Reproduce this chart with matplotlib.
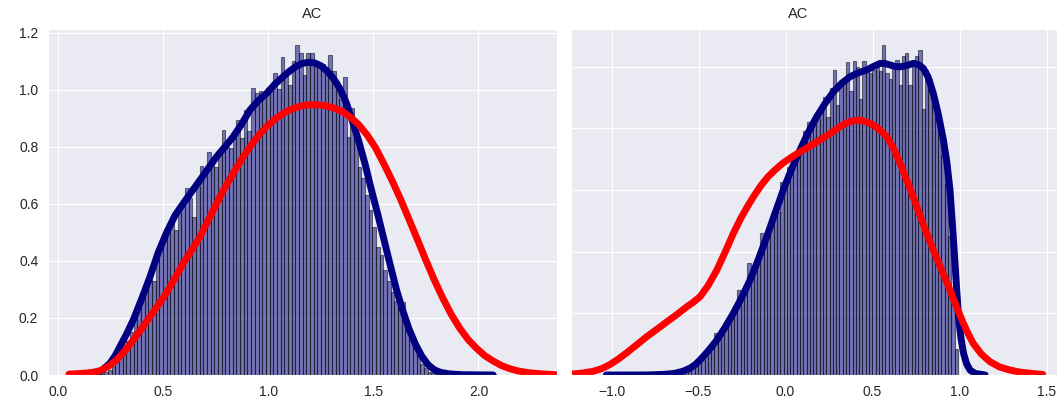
import numpy as np
import matplotlib
matplotlib.use("Agg")
import matplotlib.pyplot as plt
import seaborn as sns

# ---- panel 1: histogram (density) ----
left_edges_range = (0.20, 1.95)
left_hist = [0.005, 0.01, 0.018, 0.03, 0.05, 0.068, 0.09, 0.12, 0.15, 0.2,
             0.24, 0.27, 0.30, 0.357, 0.33, 0.44, 0.46, 0.497, 0.50, 0.532,
             0.51, 0.567, 0.60, 0.655, 0.62, 0.556, 0.66, 0.733, 0.70, 0.784,
             0.74, 0.73, 0.79, 0.86, 0.80, 0.795, 0.83, 0.895, 0.83, 0.93,
             0.855, 1.006, 0.99, 0.996, 0.975, 1.006, 1.02, 1.058, 1.003, 1.117,
             1.05, 1.018, 1.10, 1.158, 1.13, 1.053, 1.129, 1.13, 1.095, 1.09,
             1.09, 1.07, 1.123, 1.065, 1.03, 0.97, 1.047, 0.836, 0.936, 0.83,
             0.731, 0.69, 0.63, 0.58, 0.52, 0.45, 0.42, 0.37, 0.33, 0.29,
             0.26, 0.24, 0.257, 0.16, 0.13, 0.10, 0.07, 0.04, 0.025, 0.012,
             0.008, 0.004, 0.002, 0.001, 0.001, 0.0, 0.0, 0.001, 0.0, 0.001]

# kde curves
left_kde_x = [0.06, 0.15, 0.20, 0.245, 0.27, 0.293, 0.325, 0.356, 0.395, 0.436,
              0.475, 0.515, 0.555, 0.594, 0.634, 0.674, 0.713, 0.753, 0.792, 0.832,
              0.872, 0.912, 0.951, 0.991, 1.03, 1.07, 1.10, 1.13, 1.16, 1.19,
              1.22, 1.25, 1.28, 1.31, 1.34, 1.37, 1.40, 1.43, 1.46, 1.49,
              1.52, 1.55, 1.58, 1.61, 1.64, 1.67, 1.70, 1.73, 1.76, 1.79,
              1.82, 1.86, 1.92, 2.07]
left_kde_y = [0.0, 0.002, 0.012, 0.041, 0.068, 0.10, 0.145, 0.193, 0.265, 0.345,
              0.43, 0.50, 0.56, 0.602, 0.643, 0.684, 0.725, 0.766, 0.80, 0.836,
              0.88, 0.93, 0.962, 0.988, 1.02, 1.047, 1.066, 1.082, 1.093, 1.097,
              1.095, 1.085, 1.066, 1.04, 1.005, 0.956, 0.89, 0.82, 0.74, 0.65,
              0.565, 0.475, 0.385, 0.298, 0.225, 0.16, 0.108, 0.066, 0.036, 0.018,
              0.009, 0.004, 0.001, 0.0]
left_ref_x = [0.05, 0.12, 0.16, 0.198, 0.237, 0.277, 0.316, 0.356, 0.396, 0.436,
              0.475, 0.515, 0.555, 0.594, 0.634, 0.674, 0.713, 0.753, 0.792, 0.832,
              0.872, 0.912, 0.951, 0.991, 1.03, 1.07, 1.11, 1.15, 1.19, 1.23,
              1.27, 1.31, 1.35, 1.39, 1.43, 1.47, 1.51, 1.55, 1.59, 1.63,
              1.67, 1.71, 1.75, 1.79, 1.83, 1.87, 1.91, 1.95, 1.99, 2.03,
              2.07, 2.11, 2.15, 2.19, 2.24, 2.30, 2.37]
left_ref_y = [0.003, 0.006, 0.009, 0.015, 0.03, 0.053, 0.085, 0.123, 0.163, 0.205,
              0.245, 0.29, 0.34, 0.392, 0.438, 0.485, 0.543, 0.602, 0.657, 0.708,
              0.757, 0.801, 0.84, 0.871, 0.897, 0.918, 0.933, 0.943, 0.948, 0.948,
              0.945, 0.937, 0.925, 0.905, 0.878, 0.842, 0.797, 0.74, 0.68, 0.615,
              0.545, 0.474, 0.402, 0.333, 0.27, 0.213, 0.165, 0.125, 0.094, 0.068,
              0.049, 0.033, 0.022, 0.014, 0.008, 0.004, 0.001]

# ---- panel 2 ----
right_edges_range = (-0.90, 0.99)
right_hist = [0.0, 0.0, 0.0, 0.001, 0.0, 0.001, 0.001, 0.002, 0.002, 0.003,
              0.003, 0.004, 0.005, 0.005, 0.007, 0.01, 0.012, 0.015, 0.02, 0.024,
              0.035, 0.04, 0.05, 0.06, 0.075, 0.095, 0.135, 0.125, 0.145, 0.16,
              0.18, 0.20, 0.225, 0.275, 0.26, 0.29, 0.362, 0.33, 0.37, 0.40,
              0.46, 0.44, 0.47, 0.50, 0.53, 0.529, 0.627, 0.64, 0.675, 0.68,
              0.70, 0.73, 0.74, 0.79, 0.821, 0.80, 0.84, 0.83, 0.87, 0.902,
              0.835, 0.93, 0.989, 0.876, 0.95, 0.96, 1.016, 0.92, 1.019, 1.0,
              0.894, 1.019, 0.997, 0.98, 0.99, 1.0, 0.985, 1.07, 0.98, 0.96,
              1.0, 1.021, 0.94, 1.034, 1.045, 0.94, 1.02, 1.034, 1.053, 0.861,
              0.99, 0.958, 0.92, 0.886, 0.80, 0.713, 0.62, 0.45, 0.25, 0.083]

right_kde_x = [-1.03, -0.80, -0.70, -0.64, -0.59, -0.55, -0.52, -0.491, -0.46, -0.43,
               -0.395, -0.35, -0.30, -0.25, -0.204, -0.156, -0.108, -0.06, -0.013, 0.035,
               0.083, 0.131, 0.179, 0.227, 0.275, 0.323, 0.371, 0.42, 0.467, 0.505,
               0.543, 0.57, 0.60, 0.63, 0.658, 0.695, 0.734, 0.765, 0.792, 0.82,
               0.849, 0.878, 0.907, 0.927, 0.945, 0.96, 0.975, 0.985, 0.994, 1.008,
               1.023, 1.04, 1.06, 1.09, 1.147]
right_kde_y = [0.0, 0.0, 0.002, 0.005, 0.012, 0.022, 0.033, 0.049, 0.068, 0.088,
               0.113, 0.152, 0.20, 0.253, 0.308, 0.375, 0.448, 0.525, 0.60, 0.668,
               0.729, 0.787, 0.837, 0.88, 0.918, 0.946, 0.967, 0.98, 0.989, 1.0,
               1.01, 1.01, 1.005, 1.0, 0.999, 1.003, 1.01, 1.006, 0.994, 0.965,
               0.913, 0.845, 0.762, 0.69, 0.6, 0.48, 0.351, 0.265, 0.189, 0.12,
               0.07, 0.037, 0.016, 0.005, 0.0]
right_ref_x = [-1.233, -1.17, -1.105, -1.055, -1.009, -0.96, -0.913, -0.855, -0.798, -0.74,
               -0.683, -0.625, -0.568, -0.53, -0.491, -0.445, -0.395, -0.35, -0.30, -0.26,
               -0.22, -0.18, -0.14, -0.10, -0.06, -0.017, 0.026, 0.074, 0.122, 0.17,
               0.22, 0.27, 0.313, 0.343, 0.371, 0.40, 0.43, 0.467, 0.505, 0.545,
               0.582, 0.62, 0.658, 0.706, 0.754, 0.80, 0.849, 0.897, 0.945, 0.98,
               1.02, 1.05, 1.079, 1.125, 1.175, 1.23, 1.29, 1.34, 1.386, 1.43, 1.478]
right_ref_y = [0.003, 0.006, 0.012, 0.021, 0.034, 0.052, 0.072, 0.098, 0.124, 0.148,
               0.172, 0.196, 0.221, 0.236, 0.254, 0.29, 0.34, 0.395, 0.459, 0.505,
               0.545, 0.582, 0.615, 0.643, 0.665, 0.686, 0.703, 0.72, 0.736, 0.752,
               0.77, 0.788, 0.805, 0.815, 0.821, 0.825, 0.826, 0.82, 0.81, 0.793,
               0.772, 0.735, 0.686, 0.618, 0.546, 0.475, 0.405, 0.34, 0.276, 0.225,
               0.17, 0.133, 0.102, 0.068, 0.043, 0.026, 0.016, 0.01, 0.007, 0.004, 0.002]

sns.set_style("darkgrid")
plt.rcParams['font.family'] = ['Liberation Sans', 'DejaVu Sans']

W, H = 1057, 411
fig = plt.figure(figsize=(W / 100, H / 100), dpi=100)


def px_axes(x0, x1, y_top, y_bot):
    return fig.add_axes([x0 / W, 1 - y_bot / H, (x1 - x0) / W, (y_bot - y_top) / H])


def draw(ax, rng, hist, kx, ky, rx, ry, title_x):
    edges = np.linspace(rng[0], rng[1], len(hist) + 1)
    ax.bar(edges[:-1], hist, width=np.diff(edges), align='edge',
           color='navy', alpha=0.5, edgecolor='black', linewidth=0.8)
    ax.plot(kx, ky, color='navy', lw=5, solid_capstyle='round', solid_joinstyle='round')
    ax.plot(rx, ry, color='red', lw=5, solid_capstyle='round', solid_joinstyle='round')
    ax.set_title("AC", fontsize=10.5, color='.15', x=title_x, pad=8)
    ax.tick_params(labelsize=10, colors='.15')


ax1 = px_axes(48, 557, 29, 375)
draw(ax1, left_edges_range, left_hist, left_kde_x, left_kde_y, left_ref_x, left_ref_y, 0.519)
ax1.set_xlim(-0.05, 2.374)
ax1.set_ylim(0, 1.214)
ax1.set_xticks([0.0, 0.5, 1.0, 1.5, 2.0])
ax1.set_yticks([0.0, 0.2, 0.4, 0.6, 0.8, 1.0, 1.2])

ax2 = px_axes(571, 1057, 29, 375)
draw(ax2, right_edges_range, right_hist, right_kde_x, right_kde_y, right_ref_x, right_ref_y, 0.467)
ax2.set_xlim(-1.233, 1.56)
ax2.set_ylim(0, 1.1216)
ax2.set_xticks([-1.0, -0.5, 0.0, 0.5, 1.0, 1.5])
ax2.set_yticks([0.0, 0.2, 0.4, 0.6, 0.8, 1.0])
ax2.set_yticklabels([])

fig.savefig("out.png", dpi=100)
